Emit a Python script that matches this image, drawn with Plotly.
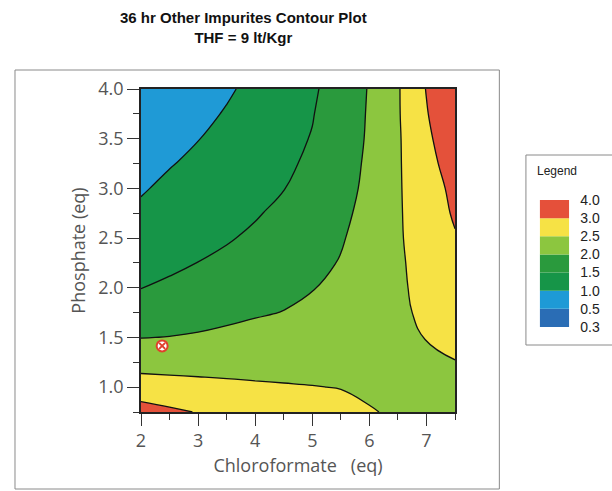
import plotly.graph_objects as go

# ---- data ----
chloroformate = [2.0, 2.5, 3.0, 3.5, 4.0, 4.5, 5.0, 5.5, 6.0, 6.5, 7.0, 7.5]
phosphate = [0.75, 1.0, 1.25, 1.5, 1.75, 2.0, 2.25, 2.5, 2.75, 3.0, 3.25, 3.5, 3.75, 4.0]
impurities = [
    [3.20, 3.08, 2.98, 2.91, 2.83, 2.755, 2.68, 2.60, 2.53, 2.44, 2.36, 2.28],
    [2.72, 2.67, 2.63, 2.59, 2.555, 2.53, 2.51, 2.49, 2.42, 2.40, 2.39, 2.38],
    [2.32, 2.32, 2.32, 2.33, 2.34, 2.35, 2.37, 2.40, 2.36, 2.40, 2.45, 2.49],
    [1.99, 2.01, 2.04, 2.09, 2.14, 2.18, 2.24, 2.31, 2.31, 2.41, 2.51, 2.59],
    [1.74, 1.80, 1.85, 1.90, 1.96, 2.01, 2.10, 2.22, 2.28, 2.43, 2.57, 2.68],
    [1.49, 1.57, 1.67, 1.75, 1.83, 1.905, 1.98, 2.13, 2.25, 2.44, 2.61, 2.78],
    [1.36, 1.42, 1.505, 1.59, 1.70, 1.80, 1.905, 2.02, 2.20, 2.44, 2.66, 2.88],
    [1.22, 1.31, 1.39, 1.465, 1.57, 1.70, 1.83, 1.97, 2.15, 2.45, 2.71, 2.97],
    [1.08, 1.20, 1.29, 1.38, 1.465, 1.595, 1.76, 1.93, 2.10, 2.45, 2.76, 3.05],
    [0.96, 1.09, 1.19, 1.29, 1.39, 1.49, 1.68, 1.86, 2.09, 2.45, 2.81, 3.10],
    [0.87, 0.975, 1.09, 1.20, 1.32, 1.43, 1.57, 1.82, 2.07, 2.45, 2.86, 3.20],
    [0.78, 0.88, 0.99, 1.115, 1.25, 1.38, 1.52, 1.78, 2.05, 2.45, 2.91, 3.32],
    [0.70, 0.80, 0.90, 1.03, 1.17, 1.33, 1.48, 1.75, 2.04, 2.46, 2.97, 3.45],
    [0.63, 0.72, 0.84, 0.95, 1.10, 1.28, 1.44, 1.70, 2.03, 2.46, 3.02, 3.60],
]
point_x = [2.37]
point_y = [1.415]

legend_levels = ["0.3", "0.5", "1.0", "1.5", "2.0", "2.5", "3.0", "4.0"]
legend_colors = ["#2a6db5", "#1e9ad6", "#169548", "#2a9a3d", "#8cc63f", "#f6e245", "#e5503a"]

band_colors = ["#1f9ad6", "#169548", "#2a9a3d", "#8cc63f", "#f6e245", "#e4513a"]

W, H = 612, 491
ML, MR, MT, MB = 141, 20, 89, 79
PW = W - ML - MR
PH = H - MT - MB


def px(x):
    return (x - ML) / PW


def py(y):
    return (H - MB - y) / PH


fig = go.Figure()

n = len(band_colors)
fig.add_trace(go.Contour(
    x=chloroformate, y=phosphate, z=impurities,
    contours=dict(start=1.0, end=3.0, size=0.5, coloring="fill"),
    colorscale=[[i / (n - 1), c] for i, c in enumerate(band_colors)],
    line=dict(color="#111111", width=1.3, smoothing=1.3),
    showscale=False, hoverinfo="skip",
))

fig.add_trace(go.Scatter(
    x=point_x, y=point_y, mode="markers",
    marker=dict(symbol="circle", size=11, color="white",
                line=dict(color="#e0402c", width=2)),
    showlegend=False, hoverinfo="skip",
))
fig.add_trace(go.Scatter(
    x=point_x, y=point_y, mode="markers",
    marker=dict(symbol="x-thin", size=6, color="#e0402c",
                line=dict(color="#e0402c", width=2)),
    showlegend=False, hoverinfo="skip",
))

# legend swatch drawn as stacked bars on its own axes
fig.add_trace(go.Bar(
    x=[0.5] * len(legend_colors), y=[1] * len(legend_colors),
    base=list(range(len(legend_colors))), width=1,
    marker=dict(color=legend_colors, line=dict(width=0)),
    xaxis="x2", yaxis="y2", showlegend=False, hoverinfo="skip",
))

axis_family = "Open Sans, DejaVu Sans, sans-serif"
tick_font = dict(family=axis_family, size=18, color="#555555")
title_font = dict(family=axis_family, size=18, color="#555555")

fig.update_layout(
    width=W, height=H,
    margin=dict(l=ML, r=MR, t=MT, b=MB),
    paper_bgcolor="white", plot_bgcolor="white",
    showlegend=False,
    xaxis=dict(
        domain=[0, (460 - ML) / PW], range=[2, 7.5],
        dtick=1, tick0=2, ticks="outside", ticklen=12, tickwidth=1.2, tickcolor="#333",
        minor=dict(dtick=0.5, ticks="outside", ticklen=6, tickwidth=1.2, tickcolor="#333"),
        showline=True, mirror=True, linecolor="#222", linewidth=1.5,
        showgrid=False, zeroline=False, tickfont=tick_font,
        title=dict(text="Chloroformate   (eq)", font=title_font, standoff=8),
    ),
    yaxis=dict(
        domain=[0, 1], range=[0.75, 4.0],
        dtick=0.5, tick0=1.0, tickformat=".1f",
        ticks="outside", ticklen=12, tickwidth=1.2, tickcolor="#333",
        minor=dict(dtick=0.25, ticks="outside", ticklen=6, tickwidth=1.2, tickcolor="#333"),
        showline=True, mirror=True, linecolor="#222", linewidth=1.5,
        showgrid=False, zeroline=False, tickfont=tick_font,
        title=dict(text="Phosphate (eq)", font=title_font, standoff=8),
    ),
    xaxis2=dict(domain=[px(546), px(576)], range=[0, 1], visible=False, anchor="y2"),
    yaxis2=dict(
        domain=[py(327), py(200)], range=[0, len(legend_colors)], anchor="x2",
        side="right", tickvals=list(range(len(legend_levels))), ticktext=legend_levels,
        ticks="", showgrid=False, zeroline=False, showline=False,
        tickfont=dict(family="Liberation Sans, sans-serif", size=14, color="#222"),
        ticklabelstandoff=10,
    ),
    shapes=[
        dict(type="rect", xref="paper", yref="paper",
             x0=px(13), x1=px(505), y0=py(489), y1=py(70),
             line=dict(color="#8a8a8a", width=1), fillcolor="rgba(0,0,0,0)", layer="below"),
        dict(type="rect", xref="paper", yref="paper",
             x0=px(532), x1=px(640), y0=py(345), y1=py(155),
             line=dict(color="#8a8a8a", width=1), fillcolor="rgba(0,0,0,0)", layer="below"),
    ],
    annotations=[
        dict(text="<b>36 hr Other Impurites Contour Plot</b><br><b>THF = 9 lt/Kgr</b>",
             xref="paper", yref="paper", x=px(245), y=py(27), xanchor="center", yanchor="middle",
             showarrow=False,
             font=dict(family="Liberation Sans Narrow, Liberation Sans, sans-serif", size=15, color="#111")),
        dict(text="Legend", xref="paper", yref="paper", x=px(564), y=py(171),
             xanchor="center", yanchor="middle", showarrow=False,
             font=dict(family="Liberation Sans, sans-serif", size=12, color="#222")),
    ],
)

fig.write_html("out.html")
